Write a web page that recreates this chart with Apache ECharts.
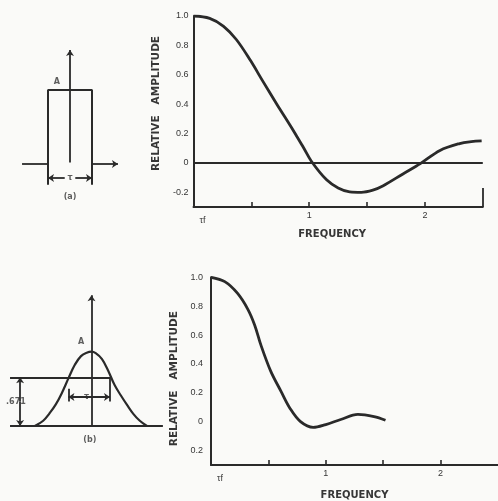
<!DOCTYPE html>
<html>
<head>
<meta charset="utf-8">
<script src="https://cdn.jsdelivr.net/npm/echarts@6/dist/echarts.min.js"></script>
<style>
  html, body { margin: 0; padding: 0; background: #fafaf8; }
  #c { width: 498px; height: 501px; }
</style>
</head>
<body>
<div id="c"></div>
<script>
// Spectrum of the rectangular pulse (a): relative amplitude against normalised frequency τf
const freqA = [0, 0.14, 0.26, 0.37, 0.49, 0.60, 0.72, 0.84, 0.95, 1.02, 1.15, 1.25, 1.35, 1.45, 1.55, 1.64, 1.81, 1.96, 2.13, 2.30, 2.40, 2.49];
const ampA  = [1.0, 0.984, 0.93, 0.84, 0.70, 0.555, 0.40, 0.25, 0.105, 0.01, -0.115, -0.17, -0.197, -0.2, -0.185, -0.155, -0.075, -0.005, 0.085, 0.132, 0.145, 0.15];

// Spectrum of the bell-shaped pulse (b)
const freqB = [0, 0.12, 0.23, 0.32, 0.38, 0.435, 0.52, 0.61, 0.69, 0.78, 0.89, 1.0, 1.13, 1.28, 1.42, 1.52];
const ampB  = [1.0, 0.97, 0.89, 0.78, 0.67, 0.53, 0.35, 0.21, 0.09, 0.0, -0.04, -0.02, 0.015, 0.05, 0.035, 0.01];

// Axis ticks and their printed labels
const yTickValues = [-0.2, 0, 0.2, 0.4, 0.6, 0.8, 1.0];
const yTickTextA  = ['-0.2', '0', '0.2', '0.4', '0.6', '0.8', '1.0'];
const yTickTextB  = ['0.2', '0', '0.2', '0.4', '0.6', '0.8', '1.0'];
const xTickValues = [0.5, 1, 1.5, 2];
const xLabelValues = [0, 1, 2];
const xLabelText  = ['τf', '1', '2'];

// Pulse shapes: time in units of τ, height in units of A
const rectPulseT = [-0.5, -0.5, 0.5, 0.5];
const rectPulseV = [-0.28, 1, 1, -0.28];
const bellPulseT = [-1.35, -1.15, -1.0, -0.85, -0.7, -0.55, -0.4, -0.25, -0.1, 0, 0.1, 0.25, 0.4, 0.55, 0.7, 0.85, 1.0, 1.15, 1.32];
const bellPulseV = [0, 0.07, 0.17, 0.29, 0.45, 0.64, 0.82, 0.94, 0.99, 1.0, 0.98, 0.9, 0.74, 0.55, 0.41, 0.28, 0.16, 0.07, 0];
const bellLevel = 0.655;
const bellLevelText = '.671';

const ink = '#2a2a2a';
const textInk = '#363636';
const labelFont = 'Liberation Sans';
const titleFont = 'DejaVu Sans';

const zip = (a, b) => a.map((v, i) => [v, b[i]]);
const seg = (x1, y1, x2, y2, s1, s2) => [
  { coord: [x1, y1], symbol: s1 || 'none' },
  { coord: [x2, y2], symbol: s2 || 'none' }
];
const lookup = (vals, texts) => v => {
  const i = vals.findIndex(x => Math.abs(x - v) < 1e-6);
  return i < 0 ? '' : texts[i];
};

function spectrumX(grid, nameGap, namePad) {
  return {
    gridIndex: grid, type: 'value', min: 0, max: 2.5,
    axisLine: { onZero: false, lineStyle: { color: ink, width: 2 } },
    axisTick: { customValues: xTickValues, inside: true, length: 5, lineStyle: { color: ink, width: 1.6 } },
    axisLabel: {
      customValues: xLabelValues, margin: 4, color: textInk, fontFamily: labelFont, fontSize: 9,
      formatter: v => v === 0 ? '{tf|' + xLabelText[0] + '}' : lookup(xLabelValues, xLabelText)(v),
      rich: { tf: { padding: [5, 0, 0, 18], fontSize: 9, color: textInk, fontFamily: labelFont } }
    },
    splitLine: { show: false },
    name: 'FREQUENCY', nameLocation: 'middle', nameGap: nameGap,
    nameTextStyle: { color: textInk, fontFamily: titleFont, fontWeight: 'bold', fontSize: 10, padding: namePad }
  };
}
function spectrumY(grid, texts, margin, nameGap, namePad) {
  return {
    gridIndex: grid, type: 'value', min: -0.3, max: 1.0,
    axisLine: { show: true, onZero: false, lineStyle: { color: ink, width: 2 } },
    axisTick: { show: false },
    axisLabel: {
      customValues: yTickValues, margin: margin, color: textInk, fontFamily: labelFont, fontSize: 9,
      formatter: lookup(yTickValues, texts)
    },
    splitLine: { show: false },
    name: 'RELATIVE   AMPLITUDE', nameLocation: 'middle', nameGap: nameGap, nameRotate: 90,
    nameTextStyle: { color: textInk, fontFamily: titleFont, fontWeight: 'bold', fontSize: 10.5, padding: namePad }
  };
}
const hiddenAxis = (grid, min, max) => ({ gridIndex: grid, type: 'value', min, max, show: false, splitLine: { show: false } });

const markLineBase = {
  silent: true, animation: false, symbol: ['none', 'none'], symbolSize: 6,
  label: { show: false }, emphasis: { disabled: true },
  lineStyle: { color: ink, width: 1.8, type: 'solid' }
};
const textSeries = (x, y, items) => ({
  type: 'scatter', xAxisIndex: x, yAxisIndex: y, symbolSize: 0, silent: true, animation: false,
  data: items.map(d => ({ value: d[0], name: d[1] })),
  label: {
    show: true, position: 'inside', formatter: p => p.name, color: textInk,
    fontFamily: titleFont, fontWeight: 'bold', fontSize: 8,
    backgroundColor: '#fafaf8', padding: [0, 1]
  }
});

const option = {
  backgroundColor: '#fafaf8',
  animation: false,
  grid: [
    { left: 193.5, top: 16, width: 289.3, height: 191 },
    { left: 211, top: 277.3, width: 291, height: 190.7 },
    { left: 4, top: 38.2, width: 132, height: 162.8 },
    { left: 3.3, top: 284.8, width: 176.4, height: 178.3 }
  ],
  xAxis: [
    spectrumX(0, 22, [0, 12, 0, 0]),
    spectrumX(1, 25, [0, 0, 0, 0]),
    hiddenAxis(2, -1.5, 1.5),
    hiddenAxis(3, -2.1, 2.1)
  ],
  yAxis: [
    spectrumY(0, yTickTextA, 5, 30, [0, 0, 0, 16]),
    spectrumY(1, yTickTextB, 8, 30, [0, 15, 0, 0]),
    hiddenAxis(2, -0.5, 1.7),
    hiddenAxis(3, -0.5, 1.9)
  ],
  series: [
    {
      type: 'line', xAxisIndex: 0, yAxisIndex: 0, data: zip(freqA, ampA),
      smooth: 0.35, showSymbol: false, silent: true,
      lineStyle: { color: ink, width: 2.8 },
      markLine: Object.assign({}, markLineBase, {
        data: [ { yAxis: 0 }, seg(2.5, -0.3, 2.5, -0.17) ]
      })
    },
    {
      type: 'line', xAxisIndex: 1, yAxisIndex: 1, data: zip(freqB, ampB),
      smooth: 0.35, showSymbol: false, silent: true,
      lineStyle: { color: ink, width: 2.8 }
    },
    // (a) rectangular pulse of height A and width τ
    {
      type: 'line', xAxisIndex: 2, yAxisIndex: 2, data: zip(rectPulseT, rectPulseV),
      showSymbol: false, silent: true, lineStyle: { color: ink, width: 2 },
      markLine: Object.assign({}, markLineBase, {
        data: [
          seg(-1.09, 0, -0.5, 0),
          seg(0.5, 0, 1.09, 0, 'none', 'arrow'),
          seg(0, 0.02, 0, 1.54, 'none', 'arrow'),
          seg(-0.12, -0.19, -0.5, -0.19, 'none', 'arrow'),
          seg(0.12, -0.19, 0.5, -0.19, 'none', 'arrow')
        ]
      })
    },
    textSeries(2, 2, [[[-0.3, 1.11], 'A'], [[0, -0.19], 'τ'], [[0, -0.44], '(a)']]),
    // (b) bell-shaped pulse of height A
    {
      type: 'line', xAxisIndex: 3, yAxisIndex: 3, data: zip(bellPulseT, bellPulseV),
      smooth: 0.4, showSymbol: false, silent: true, lineStyle: { color: ink, width: 2.2 },
      markLine: Object.assign({}, markLineBase, {
        data: [
          seg(-1.94, 0, 1.70, 0),
          seg(0, 0, 0, 1.76, 'none', 'arrow'),
          seg(-1.94, bellLevel, 0.44, bellLevel),
          seg(-1.70, bellLevel / 2, -1.70, bellLevel, 'none', 'arrow'),
          seg(-1.70, bellLevel / 2, -1.70, 0, 'none', 'arrow'),
          seg(-0.55, 0.39, 0.44, 0.39, 'arrow', 'arrow'),
          seg(0.44, bellLevel, 0.44, 0.33),
          seg(-0.55, 0.5, -0.55, 0.33)
        ]
      })
    },
    textSeries(3, 3, [[[-0.25, 1.13], 'A'], [[-0.12, 0.39], 'τ'], [[-1.80, bellLevel / 2], bellLevelText], [[-0.04, -0.19], '(b)']])
  ]
};

const chart = echarts.init(document.getElementById('c'), null, { renderer: 'canvas' });
chart.setOption(option);
</script>
</body>
</html>
